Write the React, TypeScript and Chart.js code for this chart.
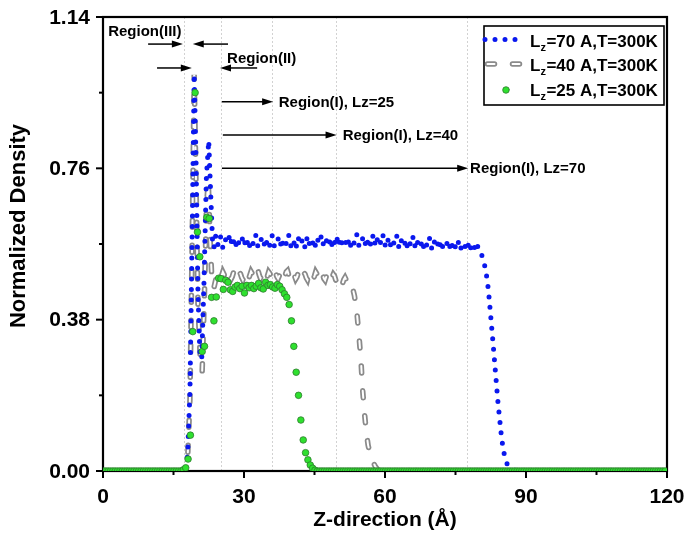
import React, { useEffect, useRef } from "react";
import { Chart, registerables } from "chart.js";

Chart.register(...registerables);

const FONT = 'Arial, "Liberation Sans", Helvetica, sans-serif';

// ---- axes ----
const Z_TICKS = [0, 30, 60, 90, 120];
const Z_MINOR = [15, 45, 75, 105];
const RHO_TICKS = [0, 0.38, 0.76, 1.14];
const RHO_MINOR = [0.19, 0.57, 0.95];

// region boundaries along z (Å), shown as faint dotted guides
const REGION_BOUNDS = [17.2, 25.2, 36.0, 49.6, 77.4];

const SERIES_NAMES = ["Lz=70 A,T=300K", "Lz=40 A,T=300K", "Lz=25 A,T=300K"];

// ---- Lz = 70 Å ----
const L70_HEAD: [number, number][] = [
  [0, 0], [17.0, 0], [17.5, 0.008], [18.0, 0.04], [18.5, 0.2], [19.0, 0.62],
  [19.4, 0.997], [19.8, 0.78], [20.2, 0.45], [20.6, 0.3], [21.0, 0.28],
  [21.5, 0.48], [22.0, 0.74], [22.5, 0.83], [22.9, 0.7], [23.3, 0.58], [23.6, 0.56],
];
const L70_PLATEAU_START = 24.0;
const L70_PLATEAU_STEP = 0.5;
const L70_PLATEAU = [
  0.592, 0.566, 0.588, 0.560, 0.582, 0.571, 0.594, 0.563, 0.585, 0.558,
  0.579, 0.590, 0.565, 0.586, 0.557, 0.581, 0.569, 0.592, 0.561, 0.578,
  0.588, 0.559, 0.583, 0.566, 0.591, 0.562, 0.576, 0.589, 0.558, 0.584,
  0.570, 0.593, 0.564, 0.580, 0.556, 0.587, 0.568, 0.583, 0.560, 0.590,
  0.566, 0.579, 0.557, 0.586, 0.571, 0.592, 0.562, 0.577, 0.589, 0.559,
  0.584, 0.565, 0.591, 0.561, 0.580, 0.568, 0.587, 0.558, 0.582, 0.570,
  0.593, 0.563, 0.578, 0.590, 0.560, 0.585, 0.567, 0.594, 0.564, 0.588,
  0.572, 0.595, 0.566, 0.586, 0.561, 0.583, 0.569, 0.590, 0.558, 0.579,
  0.587, 0.556, 0.581, 0.566, 0.589, 0.557, 0.576, 0.584, 0.554, 0.578,
  0.563, 0.585, 0.555, 0.575, 0.560, 0.582, 0.553, 0.574, 0.566, 0.580,
  0.552, 0.577, 0.561, 0.579, 0.554, 0.573, 0.563, 0.578, 0.551, 0.572,
  0.560, 0.575, 0.550,
];
const L70_TAIL: [number, number][] = [
  [80.5, 0.545], [81.0, 0.527], [81.5, 0.5], [82.0, 0.455], [83.0, 0.32],
  [84.0, 0.177], [84.7, 0.095], [85.0, 0.067], [85.4, 0.04], [86.0, 0.017],
  [86.7, 0.008], [87.4, 0.003], [88.0, 0], [120, 0],
];

// ---- Lz = 40 Å ----
const L40_HEAD: [number, number][] = [
  [0, 0], [17.0, 0], [17.5, 0.006], [18.0, 0.03], [18.5, 0.18], [19.0, 0.6],
  [19.4, 0.995], [19.8, 0.72], [20.2, 0.42], [20.7, 0.28], [21.1, 0.25],
  [21.6, 0.45], [22.0, 0.66], [22.4, 0.73], [22.8, 0.58], [23.2, 0.47], [23.6, 0.46],
];
const L40_PLATEAU_START = 24.0;
const L40_PLATEAU_STEP = 0.25;
const L40_PLATEAU = [
  0.481, 0.490, 0.499, 0.492, 0.483, 0.491, 0.500, 0.494, 0.485, 0.489,
  0.497, 0.501, 0.493, 0.482, 0.488, 0.498, 0.502, 0.491, 0.484, 0.490,
  0.499, 0.495, 0.486, 0.480, 0.489, 0.500, 0.497, 0.487, 0.483, 0.492,
  0.501, 0.496, 0.485, 0.481, 0.491, 0.499, 0.503, 0.492, 0.484, 0.489,
  0.498, 0.494, 0.483, 0.480, 0.490, 0.500, 0.496, 0.486, 0.482, 0.491,
  0.502, 0.497, 0.488, 0.483, 0.490, 0.499, 0.495, 0.485, 0.481, 0.492,
  0.500, 0.503, 0.493, 0.484, 0.488, 0.497, 0.501, 0.490, 0.482, 0.487,
  0.496, 0.500, 0.492, 0.483, 0.489, 0.498, 0.494, 0.485, 0.480, 0.491,
  0.499, 0.496, 0.486, 0.482, 0.490, 0.500, 0.495, 0.484, 0.481, 0.489,
  0.497, 0.493, 0.483, 0.479, 0.488, 0.496, 0.492, 0.482, 0.478, 0.487,
  0.494, 0.490, 0.480, 0.476, 0.485, 0.492, 0.487, 0.477, 0.472, 0.481,
  0.486, 0.480, 0.470, 0.474, 0.470,
];
const L40_TAIL: [number, number][] = [
  [53.0, 0.465], [53.5, 0.44], [54.0, 0.4], [54.5, 0.335], [54.9, 0.275],
  [55.2, 0.21], [55.6, 0.15], [56.0, 0.1], [56.4, 0.065], [56.9, 0.04],
  [57.4, 0.025], [57.9, 0.012], [58.4, 0.004], [59.0, 0], [120, 0],
];

// ---- Lz = 25 Å (sampled every 0.5 Å from 0.1 Å) ----
const L25_STEP = 0.5;
const L25_GRID_START = 0.1;
const L25_PROFILE_START = 17.1;
const L25_PROFILE = [
  0.003, 0.008, 0.03, 0.09, 0.35, 0.95, 0.6, 0.538, 0.3, 0.313,
  0.637, 0.634, 0.436, 0.377, 0.437, 0.484, 0.483, 0.456, 0.479, 0.474,
  0.455, 0.451, 0.462, 0.466, 0.458, 0.464, 0.447, 0.466, 0.46, 0.466,
  0.458, 0.464, 0.471, 0.46, 0.457, 0.474, 0.466, 0.468, 0.462, 0.459,
  0.468, 0.464, 0.455, 0.445, 0.436, 0.418, 0.377, 0.313, 0.248, 0.19,
  0.128, 0.078, 0.046, 0.028, 0.015, 0.007, 0.002,
];
const Z_MAX = 120;
const RHO_MAX = 1.14;

// ---- annotations (data coordinates) ----
const ARROWS = [
  { from: 9.6, to: 17.0, rho: 1.072 },
  { from: 26.6, to: 19.1, rho: 1.072 },
  { from: 11.5, to: 18.9, rho: 1.012 },
  { from: 32.8, to: 24.9, rho: 1.012 },
  { from: 25.3, to: 36.2, rho: 0.927 },
  { from: 25.5, to: 49.7, rho: 0.844 },
  { from: 25.3, to: 77.7, rho: 0.76 },
];
const NOTES = [
  { text: "Region(III)", z: 1.1, rho: 1.105 },
  { text: "Region(II)", z: 26.4, rho: 1.037 },
  { text: "Region(I), Lz=25", z: 37.4, rho: 0.927 },
  { text: "Region(I), Lz=40", z: 51.0, rho: 0.844 },
  { text: "Region(I), Lz=70", z: 78.1, rho: 0.76 },
];

const BLUE = "#0a18ee";
const GRAY = "#8a8a8a";
const GREEN = "#2ee02e";
const GREEN_EDGE = "#2f7a2f";

type Pt = { x: number; y: number };
const round2 = (v: number) => Math.round(v * 100) / 100;
const fromPairs = (arr: [number, number][]): Pt[] => arr.map(([x, y]) => ({ x, y }));
const onGrid = (start: number, step: number, ys: number[]): Pt[] =>
  ys.map((y, i) => ({ x: round2(start + i * step), y }));

function buildLine(
  head: [number, number][],
  start: number,
  step: number,
  plateau: number[],
  tail: [number, number][],
): Pt[] {
  return [...fromPairs(head), ...onGrid(start, step, plateau), ...fromPairs(tail)];
}

function buildL25(): Pt[] {
  const pts: Pt[] = [];
  // flat zero-density stretches on the same 0.5 Å grid
  for (let i = 0; L25_GRID_START + i * L25_STEP < L25_PROFILE_START - 1e-6; i++) {
    pts.push({ x: round2(L25_GRID_START + i * L25_STEP), y: 0 });
  }
  pts.push(...onGrid(L25_PROFILE_START, L25_STEP, L25_PROFILE));
  const end = L25_PROFILE_START + L25_PROFILE.length * L25_STEP;
  for (let i = 0; end + i * L25_STEP <= Z_MAX + 1e-6; i++) {
    pts.push({ x: round2(end + i * L25_STEP), y: 0 });
  }
  return pts;
}

function drawArrow(ctx: CanvasRenderingContext2D, x1: number, y: number, x2: number) {
  const dir = x2 > x1 ? 1 : -1;
  const headLen = 11;
  const half = 3.5;
  ctx.beginPath();
  ctx.moveTo(x1, y);
  ctx.lineTo(x2 - dir * headLen * 0.6, y);
  ctx.stroke();
  ctx.beginPath();
  ctx.moveTo(x2, y);
  ctx.lineTo(x2 - dir * headLen, y - half);
  ctx.lineTo(x2 - dir * headLen, y + half);
  ctx.closePath();
  ctx.fill();
}

const decorations = {
  id: "decorations",
  beforeDatasetsDraw(chart: any) {
    const { ctx, chartArea: a, scales } = chart;
    const xs = scales.x;
    const ys = scales.y;
    ctx.save();
    // dotted region guides
    ctx.strokeStyle = "#d2d2d2";
    ctx.lineWidth = 1;
    ctx.setLineDash([2, 2]);
    for (const z of REGION_BOUNDS) {
      const px = Math.round(xs.getPixelForValue(z)) + 0.5;
      ctx.beginPath();
      ctx.moveTo(px, a.top);
      ctx.lineTo(px, a.bottom);
      ctx.stroke();
    }
    ctx.setLineDash([]);
    // frame
    ctx.strokeStyle = "#000";
    ctx.lineWidth = 2.2;
    ctx.strokeRect(a.left, a.top, a.right - a.left, a.bottom - a.top);
    // ticks (outward)
    ctx.lineWidth = 2;
    const tickX = (v: number, len: number) => {
      const px = xs.getPixelForValue(v);
      ctx.beginPath();
      ctx.moveTo(px, a.bottom);
      ctx.lineTo(px, a.bottom + len);
      ctx.stroke();
    };
    const tickY = (v: number, len: number) => {
      const py = ys.getPixelForValue(v);
      ctx.beginPath();
      ctx.moveTo(a.left, py);
      ctx.lineTo(a.left - len, py);
      ctx.stroke();
    };
    Z_TICKS.forEach((v) => tickX(v, 7));
    Z_MINOR.forEach((v) => tickX(v, 4));
    RHO_TICKS.forEach((v) => tickY(v, 7));
    RHO_MINOR.forEach((v) => tickY(v, 4));

    // tick labels
    ctx.fillStyle = "#000";
    ctx.font = `bold 21px ${FONT}`;
    ctx.textAlign = "center";
    ctx.textBaseline = "middle";
    Z_TICKS.forEach((v) => ctx.fillText(String(v), xs.getPixelForValue(v), a.bottom + 26));
    ctx.textAlign = "right";
    RHO_TICKS.forEach((v) => ctx.fillText(v.toFixed(2), a.left - 13, ys.getPixelForValue(v) + 1));

    // axis titles
    ctx.font = `bold 21px ${FONT}`;
    ctx.textAlign = "center";
    ctx.textBaseline = "middle";
    ctx.fillText("Z-direction (Å)", (a.left + a.right) / 2, a.bottom + 49);
    ctx.save();
    ctx.font = `bold 22px ${FONT}`;
    ctx.translate(19, (a.top + a.bottom) / 2 - 18);
    ctx.rotate(-Math.PI / 2);
    ctx.fillText("Normalized Density", 0, 0);
    ctx.restore();
    ctx.restore();
  },
  afterDatasetsDraw(chart: any) {
    const { ctx, chartArea: a, scales } = chart;
    const xs = scales.x;
    const ys = scales.y;
    ctx.save();
    // arrows and region notes
    ctx.strokeStyle = "#000";
    ctx.fillStyle = "#000";
    ctx.lineWidth = 1.5;
    for (const ar of ARROWS) {
      drawArrow(ctx, xs.getPixelForValue(ar.from), ys.getPixelForValue(ar.rho), xs.getPixelForValue(ar.to));
    }
    ctx.font = `bold 15px ${FONT}`;
    ctx.textAlign = "left";
    ctx.textBaseline = "middle";
    for (const n of NOTES) {
      ctx.fillText(n.text, xs.getPixelForValue(n.z), ys.getPixelForValue(n.rho) + 1);
    }

    // legend
    const box = { l: a.right - 183, t: a.top + 9, r: a.right - 3, b: a.top + 88 };
    ctx.fillStyle = "#fff";
    ctx.fillRect(box.l, box.t, box.r - box.l, box.b - box.t);
    ctx.strokeStyle = "#000";
    ctx.lineWidth = 1.6;
    ctx.strokeRect(box.l, box.t, box.r - box.l, box.b - box.t);
    const rows = [box.t + 14.5, box.t + 39, box.t + 64];
    // Lz=70 dotted
    ctx.lineCap = "round";
    ctx.strokeStyle = BLUE;
    ctx.lineWidth = 5;
    ctx.setLineDash([0, 10]);
    ctx.beginPath();
    ctx.moveTo(box.l + 1, rows[0] - 1);
    ctx.lineTo(box.l + 36, rows[0] - 1);
    ctx.stroke();
    // Lz=40 hollow dashes
    ctx.setLineDash([7, 18]);
    ctx.strokeStyle = GRAY;
    ctx.lineWidth = 5.5;
    ctx.beginPath();
    ctx.moveTo(box.l + 3.5, rows[1] - 1);
    ctx.lineTo(box.l + 36.5, rows[1] - 1);
    ctx.stroke();
    ctx.strokeStyle = "#fff";
    ctx.lineWidth = 2;
    ctx.beginPath();
    ctx.moveTo(box.l + 3.5, rows[1] - 1);
    ctx.lineTo(box.l + 36.5, rows[1] - 1);
    ctx.stroke();
    ctx.setLineDash([]);
    // Lz=25 marker
    ctx.fillStyle = GREEN;
    ctx.strokeStyle = GREEN_EDGE;
    ctx.lineWidth = 0.8;
    ctx.beginPath();
    ctx.arc(box.l + 22, rows[2], 3.3, 0, Math.PI * 2);
    ctx.fill();
    ctx.stroke();
    // labels: L with subscript z
    ctx.fillStyle = "#000";
    ctx.textAlign = "left";
    ctx.textBaseline = "alphabetic";
    SERIES_NAMES.forEach((name, i) => {
      const base = rows[i] + 6;
      let x = box.l + 46;
      ctx.font = `bold 17px ${FONT}`;
      ctx.fillText(name.slice(0, 1), x, base);
      x += ctx.measureText(name.slice(0, 1)).width;
      ctx.font = `bold 11px ${FONT}`;
      ctx.fillText(name.slice(1, 2), x, base + 4);
      x += ctx.measureText(name.slice(1, 2)).width + 0.5;
      ctx.font = `bold 17px ${FONT}`;
      ctx.fillText(name.slice(2), x, base);
    });
    ctx.restore();
  },
};

export default function App() {
  const ref = useRef<HTMLCanvasElement | null>(null);

  useEffect(() => {
    if (!ref.current) return;
    const l70 = buildLine(L70_HEAD, L70_PLATEAU_START, L70_PLATEAU_STEP, L70_PLATEAU, L70_TAIL);
    const l40 = buildLine(L40_HEAD, L40_PLATEAU_START, L40_PLATEAU_STEP, L40_PLATEAU, L40_TAIL);
    const l25 = buildL25();

    const chart = new Chart(ref.current, {
      type: "line",
      data: {
        datasets: [
          {
            label: SERIES_NAMES[2],
            data: l25,
            showLine: false,
            pointRadius: 3.3,
            pointBackgroundColor: GREEN,
            pointBorderColor: GREEN_EDGE,
            pointBorderWidth: 0.8,
            order: 0,
          },
          {
            label: SERIES_NAMES[0],
            data: l70,
            borderColor: BLUE,
            borderWidth: 5,
            borderDash: [0, 10.5],
            borderCapStyle: "round",
            borderJoinStyle: "round",
            pointRadius: 0,
            tension: 0,
            order: 1,
          },
          {
            label: SERIES_NAMES[1],
            data: l40,
            borderColor: "#ffffff",
            borderWidth: 2,
            borderDash: [7, 18],
            borderCapStyle: "round",
            pointRadius: 0,
            tension: 0,
            order: 2,
          },
          {
            label: SERIES_NAMES[1] + " outline",
            data: l40,
            borderColor: GRAY,
            borderWidth: 5.5,
            borderDash: [7, 18],
            borderCapStyle: "round",
            pointRadius: 0,
            tension: 0,
            order: 3,
          },
        ],
      },
      options: {
        responsive: false,
        animation: false,
        devicePixelRatio: 1,
        events: [],
        layout: { padding: { left: 0, right: 21, top: 17, bottom: 0 } },
        plugins: { legend: { display: false }, tooltip: { enabled: false } },
        scales: {
          x: {
            type: "linear",
            min: 0,
            max: Z_MAX,
            grid: { display: false },
            border: { display: false },
            ticks: { display: false },
            afterFit: (s: any) => {
              s.height = 65;
            },
          },
          y: {
            type: "linear",
            min: 0,
            max: RHO_MAX,
            grid: { display: false },
            border: { display: false },
            ticks: { display: false },
            afterFit: (s: any) => {
              s.width = 103;
            },
          },
        },
      },
      plugins: [decorations],
    });
    return () => chart.destroy();
  }, []);

  return (
    <div style={{ position: "fixed", left: 0, top: 0, width: 688, height: 536, background: "#fff" }}>
      <canvas ref={ref} width={688} height={536} style={{ width: 688, height: 536, display: "block" }} />
    </div>
  );
}
